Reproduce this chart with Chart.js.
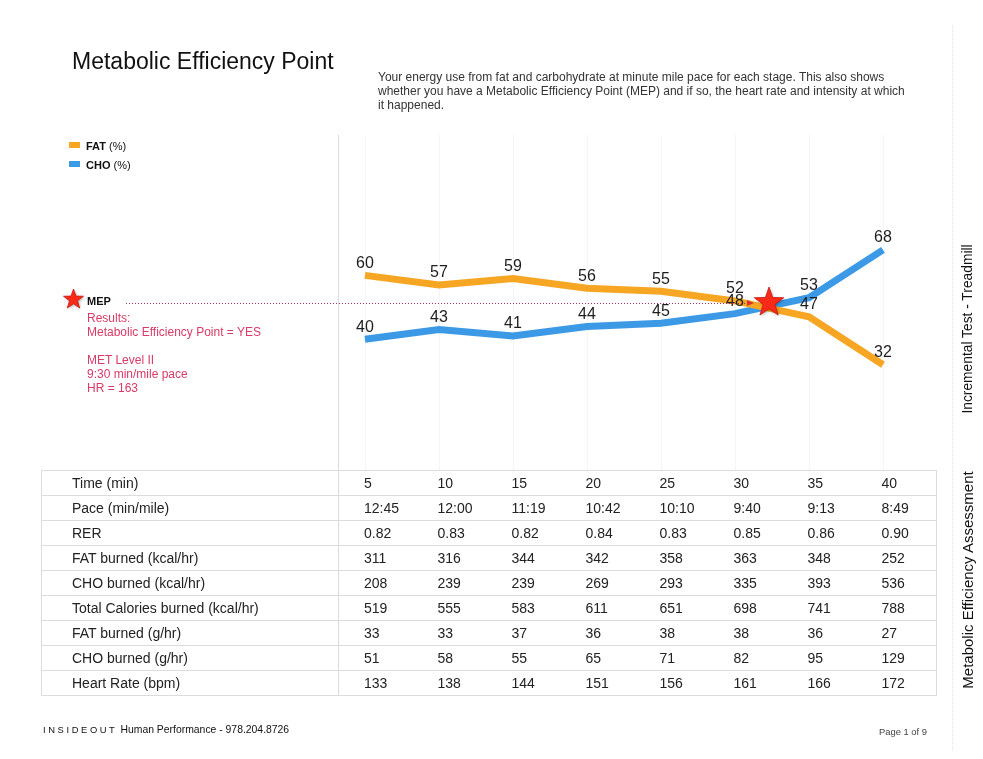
<!DOCTYPE html>
<html>
<head>
<meta charset="utf-8">
<script src="https://cdn.jsdelivr.net/npm/chart.js@4.4.1/dist/chart.umd.min.js"></script>
<style>
  html, body { margin:0; padding:0; background:#fff; }
  body { width:983px; height:759px; position:relative; overflow:hidden;
         font-family:"Liberation Sans", Arial, Helvetica, sans-serif; color:#222; }
  .abs { position:absolute; white-space:nowrap; }
  #chart { position:absolute; left:0; top:0; }
  #title { left:72px; top:50px; font-size:23px; line-height:23px; color:#111; }
  #sub { left:378px; top:70px; font-size:12px; line-height:14px; color:#333; }
  .leg { font-size:11px; line-height:14px; color:#111; }
  .leg b { font-weight:bold; }
  .sw { position:absolute; width:11px; height:6px; }
  #mep { left:87px; top:294px; font-size:11px; line-height:14px; font-weight:bold; color:#111; }
  #res { left:87px; top:312px; font-size:12px; line-height:13.9px; color:#d93a66; }
  #axisline { position:absolute; left:337.5px; top:135px; width:0; height:336px; border-left:1px solid #dcdcdc; }
  #tbl { position:absolute; left:41px; top:470px; border-collapse:collapse; table-layout:fixed; }
  #tbl td { height:24px; padding:0; font-size:14px; line-height:24px; color:#222; white-space:nowrap;
            border-top:1px solid #dcdcdc; border-bottom:1px solid #dcdcdc; }
  #tbl td.lab { padding-left:30px; border-left:1px solid #dcdcdc; border-right:1px solid #dcdcdc; }
  #tbl td.last { border-right:1px solid #dcdcdc; }
  #foot1 { left:43px; top:723px; font-size:10.4px; line-height:13px; color:#111; }
  #foot1 span { font-size:9.4px; }
  #page { left:879px; top:725px; font-size:9.4px; line-height:13px; color:#444; }
  #vline { position:absolute; left:952px; top:25px; height:725px; border-left:1px dotted #e2e2e2; }
  .vt { position:absolute; transform:rotate(-90deg); transform-origin:center center; color:#111; text-align:center; }
</style>
</head>
<body>
<canvas id="chart" width="983" height="759"></canvas>
<div id="axisline"></div>
<div id="vline"></div>

<div id="title" class="abs">Metabolic Efficiency Point</div>
<div id="sub" class="abs">Your energy use from fat and carbohydrate at minute mile pace for each stage. This also shows<br>whether you have a Metabolic Efficiency Point (MEP) and if so, the heart rate and intensity at which<br>it happened.</div>

<div class="sw" style="left:69px; top:142px; background:#f6a623;"></div>
<div class="abs leg" style="left:86px; top:139px;"><b>FAT</b> (%)</div>
<div class="sw" style="left:69px; top:161px; background:#3b99e6;"></div>
<div class="abs leg" style="left:86px; top:158px;"><b>CHO</b> (%)</div>

<div id="mep" class="abs">MEP</div>
<div id="res" class="abs">Results:<br>Metabolic Efficiency Point = YES<br><br>MET Level II<br>9:30 min/mile pace<br>HR = 163</div>

<table id="tbl"></table>

<div id="foot1" class="abs"><span>I N S I D E O U T</span>&nbsp; Human Performance - 978.204.8726</div>
<div id="page" class="abs">Page 1 of 9</div>

<div class="vt" style="left:868px; top:319px; width:200px; height:20px; line-height:20px; font-size:13.8px;">Incremental Test - Treadmill</div>
<div class="vt" style="left:843px; top:570px; width:250px; height:20px; line-height:20px; font-size:15px;">Metabolic Efficiency Assessment</div>

<script>
// ---- data ----
const times    = [5, 10, 15, 20, 25, 30, 35, 40];
const fatPct   = [60, 57, 59, 56, 55, 52, 47, 32];
const choPct   = [40, 43, 41, 44, 45, 48, 53, 68];
const paceLabels = ['12:45', '12:00', '11:19', '10:42', '10:10', '9:40', '9:13', '8:49'];
const rerValues  = ['0.82', '0.83', '0.82', '0.84', '0.83', '0.85', '0.86', '0.90'];
const fatKcal  = [311, 316, 344, 342, 358, 363, 348, 252];
const choKcal  = [208, 239, 239, 269, 293, 335, 393, 536];
const totalKcal = [519, 555, 583, 611, 651, 698, 741, 788];
const fatGrams = [33, 33, 37, 36, 38, 38, 36, 27];
const choGrams = [51, 58, 55, 65, 71, 82, 95, 129];
const heartRate = [133, 138, 144, 151, 156, 161, 166, 172];
const rowLabels = ['Time (min)', 'Pace (min/mile)', 'RER', 'FAT burned (kcal/hr)', 'CHO burned (kcal/hr)',
                   'Total Calories burned (kcal/hr)', 'FAT burned (g/hr)', 'CHO burned (g/hr)', 'Heart Rate (bpm)'];
const mepPoint = [32.3, 51.5];   // [time (min), percent]

const FAT_COLOR = '#f6a623';
const CHO_COLOR = '#3b99e6';

function starPath(ctx, cx, cy, R, r) {
  ctx.beginPath();
  for (let i = 0; i < 10; i++) {
    const a = -Math.PI / 2 + i * Math.PI / 5;
    const rad = (i % 2) ? r : R;
    ctx.lineTo(cx + rad * Math.cos(a), cy + rad * Math.sin(a));
  }
  ctx.closePath();
}
function drawStar(ctx, cx, cy, R) {
  ctx.save();
  ctx.shadowColor = 'rgba(0,0,0,0.35)';
  ctx.shadowBlur = 3;
  ctx.shadowOffsetX = 1;
  ctx.shadowOffsetY = 1;
  starPath(ctx, cx, cy, R, R * 0.4);
  ctx.fillStyle = '#fb2a18';
  ctx.fill();
  ctx.shadowColor = 'transparent';
  ctx.lineWidth = 0.8;
  ctx.strokeStyle = '#c8160c';
  ctx.stroke();
  ctx.restore();
}

const decor = {
  id: 'decor',
  beforeDatasetsDraw(chart) {
    const { ctx, chartArea, scales } = chart;
    ctx.save();
    ctx.strokeStyle = '#f5f5f5';
    ctx.lineWidth = 1;
    times.forEach(t => {
      const x = Math.round(scales.x.getPixelForValue(t)) + 0.5;
      ctx.beginPath();
      ctx.moveTo(x, chartArea.top);
      ctx.lineTo(x, chartArea.bottom);
      ctx.stroke();
    });
    ctx.restore();
  },
  afterDraw(chart) {
    const { ctx, scales } = chart;
    ctx.save();
    // data labels
    ctx.font = '16px "Liberation Sans", Arial, sans-serif';
    ctx.fillStyle = '#1e1e1e';
    ctx.textAlign = 'center';
    ctx.textBaseline = 'middle';
    chart.data.datasets.forEach((ds, di) => {
      const meta = chart.getDatasetMeta(di);
      meta.data.forEach((pt, i) => {
        ctx.fillText(String(ds.data[i].y), pt.x, pt.y - 12);
      });
    });
    // MEP dotted line + arrow + star
    const sx = scales.x.getPixelForValue(mepPoint[0]);
    const sy = scales.y.getPixelForValue(mepPoint[1]);
    ctx.strokeStyle = '#a4306a';
    ctx.lineWidth = 1;
    ctx.setLineDash([1, 2]);
    ctx.beginPath();
    ctx.moveTo(126, Math.round(sy) + 0.5);
    ctx.lineTo(sx - 21, Math.round(sy) + 0.5);
    ctx.stroke();
    ctx.setLineDash([]);
    ctx.fillStyle = '#e0302c';
    ctx.beginPath();
    ctx.moveTo(sx - 22, sy - 2.5);
    ctx.lineTo(sx - 15, sy + 0.5);
    ctx.lineTo(sx - 22, sy + 3.5);
    ctx.closePath();
    ctx.fill();
    drawStar(ctx, sx, sy, 15.5);
    drawStar(ctx, 73.5, 299.5, 10.5);
    ctx.restore();
  }
};

const chart = new Chart(document.getElementById('chart'), {
  type: 'line',
  data: {
    datasets: [
      { label: 'FAT (%)', data: times.map((t, i) => ({ x: t, y: fatPct[i] })),
        borderColor: FAT_COLOR, backgroundColor: FAT_COLOR, borderWidth: 7, pointRadius: 0, tension: 0 },
      { label: 'CHO (%)', data: times.map((t, i) => ({ x: t, y: choPct[i] })),
        borderColor: CHO_COLOR, backgroundColor: CHO_COLOR, borderWidth: 7, pointRadius: 0, tension: 0 }
    ]
  },
  options: {
    responsive: false,
    animation: false,
    devicePixelRatio: 1,
    layout: { padding: { left: 338, top: 135, right: 47, bottom: 289 } },
    plugins: { legend: { display: false }, tooltip: { enabled: false } },
    scales: {
      x: { type: 'linear', display: false, min: 3.18, max: 43.58 },
      y: { type: 'linear', display: false, min: -1, max: 104 }
    }
  },
  plugins: [decor]
});

// ---- table aligned with the chart's x scale ----
(function buildTable() {
  const rows = [times, paceLabels, rerValues, fatKcal, choKcal, totalKcal, fatGrams, choGrams, heartRate];
  const tbl = document.getElementById('tbl');
  const xs = chart.scales.x;
  const tableLeft = 41, tableRight = 936;
  const colStarts = times.map(t => Math.round(xs.getPixelForValue(t)) - 27);
  const cg = document.createElement('colgroup');
  const widths = [colStarts[0] - tableLeft];
  colStarts.forEach((s, i) => widths.push((i < colStarts.length - 1 ? colStarts[i + 1] : tableRight) - s));
  widths.forEach(w => { const c = document.createElement('col'); c.style.width = w + 'px'; cg.appendChild(c); });
  tbl.appendChild(cg);
  tbl.style.width = (tableRight - tableLeft) + 'px';
  rows.forEach((vals, r) => {
    const tr = document.createElement('tr');
    const th = document.createElement('td');
    th.className = 'lab';
    th.textContent = rowLabels[r];
    tr.appendChild(th);
    vals.forEach((v, i) => {
      const td = document.createElement('td');
      td.textContent = String(v);
      td.style.paddingLeft = '25px';
      if (i === vals.length - 1) td.className = 'last';
      tr.appendChild(td);
    });
    tbl.appendChild(tr);
  });
})();
</script>
</body>
</html>
